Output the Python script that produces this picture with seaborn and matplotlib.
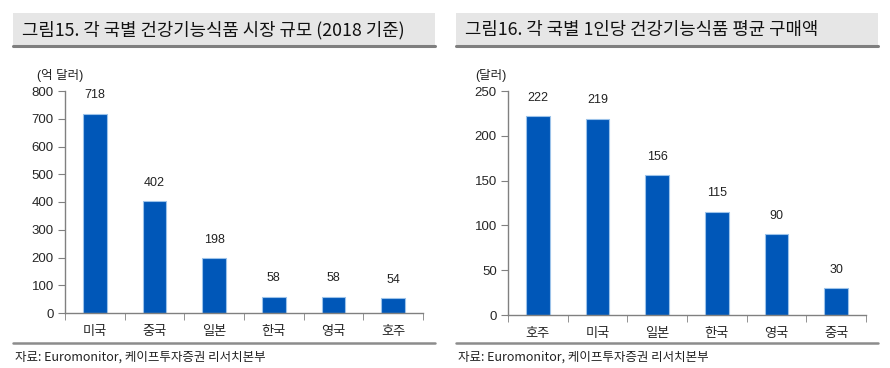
import matplotlib
matplotlib.use("Agg")
import matplotlib.pyplot as plt
import seaborn as sns
import pandas as pd
from matplotlib.patches import Rectangle
from matplotlib.lines import Line2D

# %% Data
market_countries = ['미국', '중국', '일본', '한국', '영국', '호주']
market_size = [718, 402, 198, 58, 58, 54]

percap_countries = ['호주', '미국', '일본', '한국', '영국', '중국']
percap_spend = [222, 219, 156, 115, 90, 30]

title_left = '그림15. 각 국별 건강기능식품 시장 규모 (2018 기준)'
title_right = '그림16. 각 국별 1인당 건강기능식품 평균 구매액'
unit_left = '(억 달러)'
unit_right = '(달러)'
source = '자료: Euromonitor, 케이프투자증권 리서치본부'

# %% Style
sns.set_style('white')
plt.rcParams['font.family'] = ['Noto Sans CJK KR', 'DejaVu Sans']
num_font = ['Liberation Sans', 'Noto Sans CJK KR']
bar_color = '#0057B8'
spine_color = '#808080'

fig = plt.figure(figsize=(8.9, 3.68), dpi=100)


def panel(x0, ax_rect, cats, vals, ymax, step, title, unit, unit_x):
    W, H = 890, 368
    # title box
    fig.patches.append(Rectangle((x0 / W, 1 - 45 / H), 422 / W, 32 / H,
                                 transform=fig.transFigure,
                                 facecolor='#E6E6E6', edgecolor='none'))
    fig.lines.append(Line2D([x0 / W, (x0 + 422) / W],
                            [1 - 46 / H, 1 - 46 / H],
                            transform=fig.transFigure, color='#7F7F7F',
                            linewidth=2.2))
    fig.text((x0 + 9) / W, 1 - 30 / H, title, fontsize=12.8,
             fontweight='light', va='center', ha='left', color='#111111')
    # bottom line and source
    fig.lines.append(Line2D([x0 / W, (x0 + 422) / W],
                            [1 - 343 / H, 1 - 343 / H],
                            transform=fig.transFigure, color='#8C8C8C',
                            linewidth=1.8))
    fig.text((x0 + 2) / W, 1 - 357 / H, source, fontsize=9,
             fontweight='light', va='center', ha='left', color='#222222')
    fig.text(unit_x / W, 1 - 75 / H, unit, fontsize=9, family=num_font,
             va='center', ha='left', color='#222222')

    ax = fig.add_axes(ax_rect)
    df = pd.DataFrame({'country': cats, 'value': vals})
    sns.barplot(data=df, x='country', y='value', ax=ax, color=bar_color,
                saturation=1, width=0.4, edgecolor='#9CC3EA', linewidth=0.8)
    for i, v in enumerate(vals):
        ax.annotate(str(v), (i, v), xytext=(0, 9), textcoords='offset points',
                    ha='center', va='bottom', fontsize=9, family=num_font,
                    color='#222222')
    ax.set_ylim(0, ymax)
    ax.set_yticks(range(0, ymax + 1, step))
    ax.set_yticklabels([str(t) for t in range(0, ymax + 1, step)],
                       family=num_font)
    ax.set_xlim(-0.5, len(cats) - 0.5)
    ax.set_xlabel('')
    ax.set_ylabel('')
    for s in ['top', 'right']:
        ax.spines[s].set_visible(False)
    for s in ['left', 'bottom']:
        ax.spines[s].set_color(spine_color)
        ax.spines[s].set_linewidth(1)
    ax.tick_params(axis='y', direction='out', length=5, color=spine_color,
                   labelsize=9.5, left=True, pad=3)
    ax.tick_params(axis='x', length=0, labelsize=9.5, pad=9)
    # category separator ticks on x axis
    ax.set_xticks([i + 0.5 for i in range(-1, len(cats))], minor=True)
    ax.tick_params(axis='x', which='minor', direction='out', length=5,
                   color=spine_color, bottom=True)
    return ax


panel(13, [65 / 890, 1 - 313 / 368, 358 / 890, 222 / 368],
      market_countries, market_size, 800, 100, title_left, unit_left, 37)
panel(456, [508 / 890, 1 - 315 / 368, 358 / 890, 224 / 368],
      percap_countries, percap_spend, 250, 50, title_right, unit_right, 475)

fig.savefig('out.png', dpi=100)
